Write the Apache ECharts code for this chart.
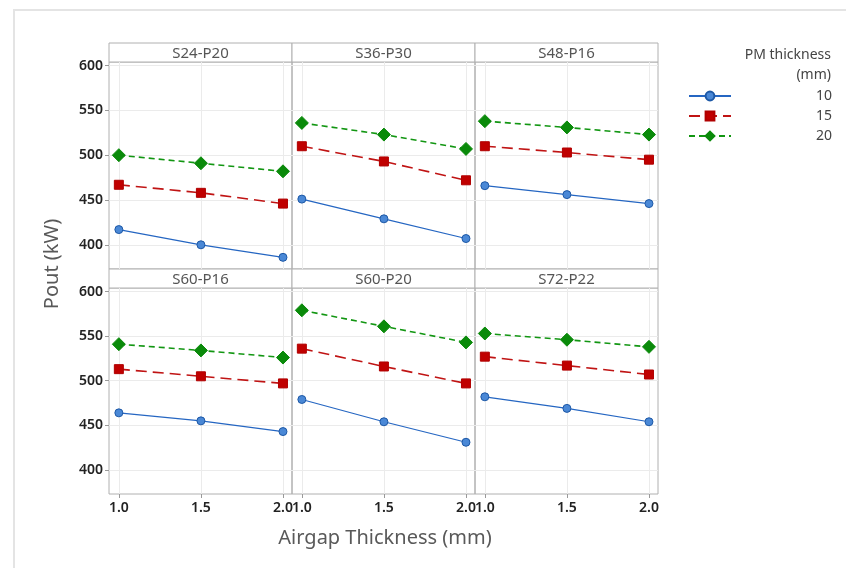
<!DOCTYPE html>
<html>
<head>
<meta charset="utf-8">
<script src="https://cdn.jsdelivr.net/npm/echarts@6/dist/echarts.min.js"></script>
<style>
  html, body { margin: 0; padding: 0; background: #fff; }
  #main { width: 846px; height: 568px; }
</style>
</head>
<body>
<div id="main"></div>
<script>
// airgap thickness (mm) on x
const airgap = [1.0, 1.5, 2.0];
const panels = ['S24-P20', 'S36-P30', 'S48-P16', 'S60-P16', 'S60-P20', 'S72-P22'];
const yTicks = [400, 450, 500, 550, 600];
const pmNames = ['10', '15', '20'];

// Pout (kW), one row per panel
const pm10 = [[417, 400, 386], [451, 429, 407], [466, 456, 446], [464, 455, 443], [479, 454, 431], [482, 469, 454]];
const pm15 = [[467, 458, 446], [510, 493, 472], [510, 503, 495], [513, 505, 497], [536, 516, 497], [527, 517, 507]];
const pm20 = [[500, 491, 482], [536, 523, 507], [538, 531, 523], [541, 534, 526], [579, 561, 543], [553, 546, 538]];

const chart = echarts.init(document.getElementById('main'), null, { renderer: 'canvas' });

const FONT = '"Noto Sans", "Open Sans", sans-serif';
const colLeft = [109, 292, 475];
const colW = 183;
const rowTop = [62, 288];
const rowH = [207, 206];
const stripTop = [43, 269];

const grids = [], xAxes = [], yAxes = [], series = [], graphics = [];

// light outer frame
graphics.push({
    type: 'rect',
    shape: { x: 14, y: 10, width: 850, height: 580 },
    style: { fill: 'none', stroke: '#e4e4e4', lineWidth: 2 },
    silent: true
});

const styles = [
    { data: pm10, symbol: 'circle', size: 8, color: '#4a88d6', border: '#1d58a6', line: '#2566c2', width: 1.2, type: 'solid' },
    { data: pm15, symbol: 'rect', size: 9, color: '#c00000', border: '#b00000', line: '#c01414', width: 1.6, type: [11, 6] },
    { data: pm20, symbol: 'diamond', size: 13, color: '#0a8a0a', border: '#0a8a0a', line: '#129612', width: 1.6, type: [6, 4] }
];

panels.forEach(function (name, i) {
    const col = i % 3, row = Math.floor(i / 3);
    grids.push({
        left: colLeft[col], top: rowTop[row], width: colW, height: rowH[row],
        show: true, borderColor: '#b0b0b0', borderWidth: 1, backgroundColor: 'transparent'
    });
    xAxes.push({
        type: 'value', gridIndex: i, min: 0.94, max: 2.055,
        axisLine: { show: false },
        axisTick: { show: row === 1, customValues: airgap, length: 4, lineStyle: { color: '#999' } },
        axisLabel: {
            show: row === 1, customValues: airgap, margin: 7,
            formatter: function (v) { return v.toFixed(1); },
            fontFamily: FONT, fontSize: 14, fontWeight: 600, color: '#222'
        },
        splitLine: { show: true, lineStyle: { color: '#ebebeb', width: 1 } }
    });
    yAxes.push({
        type: 'value', gridIndex: i, min: 373, max: 604,
        axisLine: { show: false },
        axisTick: { show: col === 0, customValues: yTicks, length: 4, lineStyle: { color: '#999' } },
        axisLabel: {
            show: col === 0, customValues: yTicks, margin: 6,
            fontFamily: FONT, fontSize: 14, fontWeight: 600, color: '#222'
        },
        splitLine: { show: true, lineStyle: { color: '#ebebeb', width: 1 } }
    });

    // strip header
    graphics.push({
        type: 'rect',
        shape: { x: colLeft[col], y: stripTop[row], width: colW, height: rowTop[row] - stripTop[row] },
        style: { fill: '#fff', stroke: '#b0b0b0', lineWidth: 1 },
        silent: true
    });
    graphics.push({
        type: 'text',
        x: colLeft[col] + colW / 2, y: stripTop[row] + (rowTop[row] - stripTop[row]) / 2 + 1,
        style: { text: name, align: 'center', verticalAlign: 'middle', font: '15px ' + FONT, fill: '#555' },
        silent: true
    });

    styles.forEach(function (s, k) {
        series.push({
            name: pmNames[k], type: 'line', xAxisIndex: i, yAxisIndex: i,
            data: airgap.map(function (x, j) { return [x, s.data[i][j]]; }),
            symbol: s.symbol, symbolSize: s.size,
            itemStyle: { color: s.color, borderColor: s.border, borderWidth: 1 },
            lineStyle: { color: s.line, width: s.width, type: s.type },
            emphasis: { disabled: true },
            z: 3 + k
        });
    });
});

// axis titles
graphics.push({
    type: 'text', x: 52, y: 264, rotation: Math.PI / 2,
    style: { text: 'Pout (kW)', align: 'center', verticalAlign: 'middle', font: '20px ' + FONT, fill: '#595959' },
    silent: true
});
graphics.push({
    type: 'text', x: 385, y: 538,
    style: { text: 'Airgap Thickness (mm)', align: 'center', verticalAlign: 'middle', font: '20px ' + FONT, fill: '#595959' },
    silent: true
});
// legend title
graphics.push({
    type: 'text', x: 831, y: 55,
    style: { text: 'PM thickness', align: 'right', verticalAlign: 'middle', font: '14px ' + FONT, fill: '#444' },
    silent: true
});
graphics.push({
    type: 'text', x: 831, y: 75,
    style: { text: '(mm)', align: 'right', verticalAlign: 'middle', font: '14px ' + FONT, fill: '#444' },
    silent: true
});

const option = {
    backgroundColor: '#ffffff',
    animation: false,
    grid: grids,
    xAxis: xAxes,
    yAxis: yAxes,
    series: series,
    legend: {
        data: pmNames,
        orient: 'vertical',
        left: 683, top: 84,
        itemWidth: 42, itemHeight: 11, itemGap: 6,
        selectedMode: false,
        formatter: function (n) { return '{r|' + n + '}'; },
        textStyle: {
            fontFamily: FONT, fontSize: 14, color: '#444',
            rich: { r: { width: 96, align: 'right', fontFamily: FONT, fontSize: 14, color: '#444' } }
        }
    },
    graphic: graphics
};

chart.setOption(option);
</script>
</body>
</html>
